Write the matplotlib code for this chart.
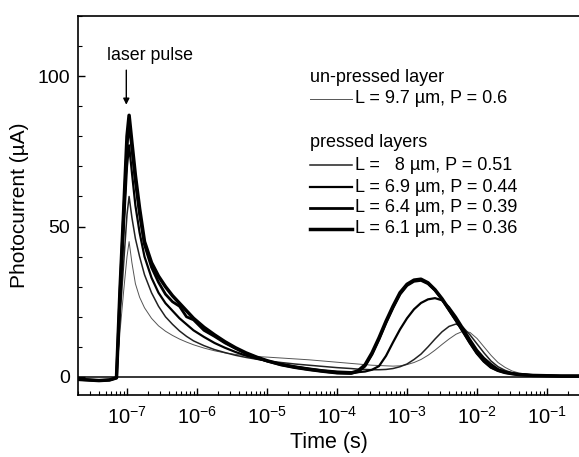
import numpy as np
import matplotlib
matplotlib.use("Agg")
import matplotlib.pyplot as plt
from matplotlib.ticker import FixedLocator, NullFormatter, LogFormatterSciNotation

plt.rcParams['font.family'] = ['Liberation Sans', 'DejaVu Sans']
plt.rcParams['mathtext.fontset'] = 'custom'
plt.rcParams['mathtext.rm'] = 'Liberation Sans'
plt.rcParams['mathtext.it'] = 'Liberation Sans:italic'
plt.rcParams['mathtext.default'] = 'regular'

# shared time grid, log10(t / s)
log_t = [-7.70, -7.55, -7.40, -7.25, -7.15, -7.10, -7.05, -7.00, -6.97, -6.93,
         -6.88, -6.82, -6.75, -6.65, -6.55, -6.45, -6.35, -6.25, -6.15, -6.05,
         -5.90, -5.75, -5.60, -5.45, -5.30, -5.15, -5.00, -4.80, -4.60, -4.40,
         -4.20, -4.00, -3.80, -3.70, -3.60, -3.50, -3.40, -3.30, -3.20, -3.10,
         -3.00, -2.90, -2.80, -2.70, -2.60, -2.50, -2.40, -2.30, -2.20, -2.10,
         -2.00, -1.90, -1.80, -1.70, -1.60, -1.50, -1.40, -1.20, -1.00, -0.80,
         -0.55]

# photocurrent (uA)
i_97 = [-0.8, -1.0, -1.2, -1.0, -0.3, 15.0, 28.0, 40.0, 45.0, 38.0,
        31.0, 26.5, 23.0, 19.5, 17.0, 15.2, 13.8, 12.6, 11.6, 10.7,
        9.6, 8.7, 8.0, 7.5, 7.1, 6.8, 6.6, 6.3, 6.0, 5.7,
        5.3, 4.9, 4.5, 4.3, 4.1, 3.9, 3.8, 3.7, 3.6, 3.7,
        4.1, 4.8, 5.8, 7.2, 8.9, 10.8, 12.6, 14.2, 15.2, 14.8,
        12.8, 10.0, 7.2, 4.8, 3.2, 2.0, 1.3, 0.7, 0.5, 0.4,
        0.3]
i_80 = [-0.8, -1.0, -1.2, -1.0, -0.3, 20.0, 37.0, 54.0, 60.0, 53.0,
        46.0, 40.0, 34.0, 28.0, 23.5, 20.0, 17.5, 15.3, 13.5, 12.0,
        10.4, 9.1, 8.1, 7.2, 6.5, 5.9, 5.4, 4.8, 4.3, 3.9,
        3.5, 3.1, 2.8, 2.6, 2.5, 2.4, 2.4, 2.5, 2.8, 3.4,
        4.3, 5.8, 7.6, 10.0, 12.6, 15.0, 16.8, 17.6, 16.5, 14.0,
        11.0, 8.0, 5.3, 3.4, 2.2, 1.4, 1.0, 0.6, 0.4, 0.3,
        0.3]
i_69 = [-0.8, -1.0, -1.2, -1.0, -0.3, 25.0, 48.0, 70.0, 77.0, 68.0,
        57.0, 48.0, 40.0, 33.0, 28.0, 24.5, 22.0, 19.5, 17.5, 15.5,
        13.3, 11.3, 9.7, 8.3, 7.1, 6.1, 5.3, 4.3, 3.5, 2.8,
        2.2, 1.8, 1.6, 1.6, 1.8, 2.4, 3.6, 7.0, 11.5, 15.8,
        19.5, 22.5, 24.6, 25.8, 26.2, 25.5, 23.2, 20.0, 16.3, 12.5,
        9.0, 6.3, 4.3, 2.6, 1.7, 1.1, 0.8, 0.5, 0.4, 0.3,
        0.3]
i_64 = [-0.8, -1.0, -1.2, -1.0, -0.3, 28.0, 53.0, 77.0, 84.0, 76.0,
        65.0, 54.0, 44.0, 36.5, 31.5, 27.5, 25.0, 23.5, 20.0, 19.0,
        15.5, 13.5, 11.3, 9.5, 7.8, 6.5, 5.3, 4.1, 3.2, 2.5,
        1.9, 1.4, 1.2, 1.7, 3.6, 7.5, 12.5, 18.0, 23.0, 27.5,
        30.4, 31.8, 32.1, 31.0, 28.8, 25.8, 22.3, 18.8, 15.2, 11.4,
        8.0, 5.3, 3.3, 2.2, 1.5, 1.1, 0.8, 0.5, 0.4, 0.3,
        0.3]
i_61 = [-0.8, -1.0, -1.2, -1.0, -0.3, 29.0, 54.0, 80.0, 87.0, 78.0,
        67.0, 56.0, 45.0, 38.0, 33.5, 30.0, 27.0, 24.5, 22.0, 19.5,
        16.5, 14.0, 11.7, 9.7, 8.0, 6.6, 5.4, 4.1, 3.2, 2.5,
        1.9, 1.4, 1.3, 2.0, 4.0, 8.0, 13.0, 18.5, 23.5, 28.0,
        30.8, 32.2, 32.5, 31.3, 29.0, 26.0, 22.5, 19.0, 15.3, 11.5,
        8.0, 5.3, 3.3, 2.2, 1.5, 1.1, 0.8, 0.5, 0.4, 0.3,
        0.3]

labels = ["L = 9.7 \u00b5m, P = 0.6", "L =   8 \u00b5m, P = 0.51",
          "L = 6.9 \u00b5m, P = 0.44", "L = 6.4 \u00b5m, P = 0.39",
          "L = 6.1 \u00b5m, P = 0.36"]
series = [i_97, i_80, i_69, i_64, i_61]
widths = [0.7, 1.1, 1.6, 2.0, 2.5]
colors = ['#555555', '#222222', '#000000', '#000000', '#000000']

x_major = [1e-7, 1e-6, 1e-5, 1e-4, 1e-3, 1e-2, 1e-1]
y_major = [0, 50, 100]

fig = plt.figure(figsize=(5.79, 4.57), dpi=100)
W, H = 579, 457
x0, x1, yt, yb = 78, 580, 16, 395
ax = fig.add_axes([x0 / W, (H - yb) / H, (x1 - x0) / W, (yb - yt) / H])

t = 10.0 ** np.array(log_t)
for y, lw, c in zip(series, widths, colors):
    ax.plot(t, y, color=c, lw=lw, solid_joinstyle='round')

ax.axhline(0, color='black', lw=1.1)

ax.set_xscale('log')
ax.set_xlim(10 ** -7.7, 10 ** ((x1 - 127) / 70 - 7))
ax.set_ylim(-6, 120)
ax.yaxis.set_major_locator(FixedLocator(y_major))
ax.yaxis.set_minor_locator(FixedLocator(list(range(-10, 121, 10))))
ax.xaxis.set_major_locator(FixedLocator(x_major))
ax.xaxis.set_major_formatter(LogFormatterSciNotation())
minor = [m * d for d in [1e-8, 1e-7, 1e-6, 1e-5, 1e-4, 1e-3, 1e-2, 1e-1]
         for m in range(2, 10)]
ax.xaxis.set_minor_locator(FixedLocator(minor))
ax.xaxis.set_minor_formatter(NullFormatter())
ax.tick_params(which='both', direction='in', top=False, right=False)
ax.tick_params(axis='y', labelsize=14)
ax.tick_params(axis='x', labelsize=14.5)
ax.tick_params(which='major', length=5, width=1.0)
ax.tick_params(which='minor', length=3, width=0.8)
ax.tick_params(axis='x', which='major', pad=8)
ax.tick_params(axis='y', which='major', pad=6)
ax.spines['right'].set_visible(False)
for s in ['left', 'bottom', 'top']:
    ax.spines[s].set_linewidth(1.2)

ax.set_xlabel('Time (s)', fontsize=15.5, labelpad=3)
ax.set_ylabel('Photocurrent (\u00b5A)', fontsize=15, labelpad=6)

# laser pulse annotation
ax.annotate('', xy=(10 ** -7.01, 90.5), xytext=(10 ** -7.01, 102),
            arrowprops=dict(arrowstyle='-|>', color='black', lw=1.0,
                            mutation_scale=9, shrinkA=0, shrinkB=0))
ax.text(10 ** -6.67, 107, 'laser pulse', fontsize=12.8, ha='center', va='center')

# legend drawn manually (pixel layout -> axes fraction)
def fx(px):
    return (px - x0) / (x1 - x0)

def fy(py):
    return (yb - py) / (yb - yt)

ax.text(fx(310), fy(78), 'un-pressed layer', transform=ax.transAxes,
        fontsize=13, ha='left', va='center')
ax.text(fx(310), fy(143), 'pressed layers', transform=ax.transAxes,
        fontsize=13, ha='left', va='center')
rows = [99, 165, 187, 208, 229]
for lab, lw, c, ry in zip(labels, widths, colors, rows):
    ax.plot([fx(310), fx(352)], [fy(ry), fy(ry)], transform=ax.transAxes,
            color=c, lw=lw, clip_on=False)
    ax.text(fx(355), fy(ry), lab, transform=ax.transAxes, fontsize=13,
            ha='left', va='center')

fig.savefig('out.png', dpi=100)
